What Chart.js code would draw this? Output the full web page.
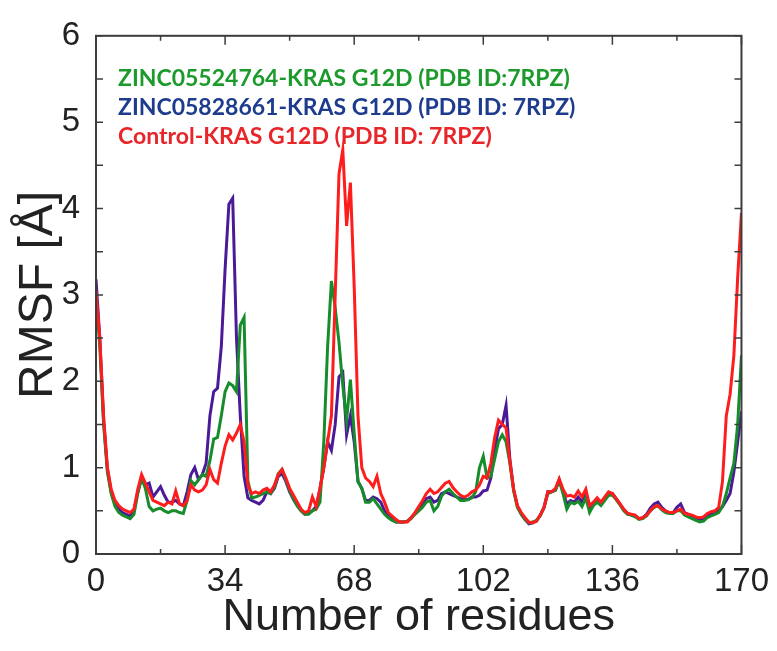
<!DOCTYPE html>
<html>
<head>
<meta charset="utf-8">
<script src="https://cdn.jsdelivr.net/npm/chart.js@4.4.1/dist/chart.umd.min.js"></script>
<style>
  html, body { margin: 0; padding: 0; background: #fff; }
  #wrap { width: 777px; height: 651px; }
</style>
</head>
<body>
<div id="wrap"><canvas id="grafica" width="777" height="651"></canvas></div>
<script>
// residuos 0..170
const residuos = Array.from({ length: 171 }, (_, i) => i);

const nombres = [
    'ZINC05524764-KRAS G12D (PDB ID:7RPZ)',
    'ZINC05828661-KRAS G12D (PDB ID: 7RPZ)',
    'Control-KRAS G12D (PDB ID: 7RPZ)'
];
const coloresLinea = ['#178c2a', '#4b1a98', '#ff1c1c'];
const coloresTexto = ['#1c9a2c', '#1d3c8e', '#e8262a'];

const xTicks = [0, 34, 68, 102, 136, 170];
const xMenores = [17, 51, 85, 119, 153];
const yTicks = [0, 1, 2, 3, 4, 5, 6];
const yMenores = [0.5, 1.5, 2.5, 3.5, 4.5, 5.5];

// RMSF (Å) por residuo
const rmsfVerde = [
    3.0, 2.4, 1.5, 0.95, 0.7, 0.55, 0.48, 0.45, 0.43, 0.41,
    0.46, 0.7, 0.88, 0.76, 0.55, 0.5, 0.52, 0.53, 0.5, 0.48,
    0.5, 0.5, 0.48, 0.47, 0.62, 0.85, 0.8, 0.86, 0.92, 0.9,
    1.08, 1.33, 1.35, 1.6, 1.88, 1.98, 1.95, 1.88, 2.65, 2.74,
    0.85, 0.65, 0.66, 0.68, 0.7, 0.72, 0.7, 0.78, 0.93, 0.98,
    0.86, 0.74, 0.64, 0.56, 0.5, 0.46, 0.46, 0.5, 0.52, 0.6,
    1.3, 2.4, 3.16, 2.85, 2.45, 1.95, 1.55, 2.02, 1.4, 0.84,
    0.76, 0.6, 0.6, 0.64, 0.58, 0.52, 0.46, 0.42, 0.39, 0.37,
    0.37, 0.37, 0.38, 0.41, 0.46, 0.5, 0.54, 0.6, 0.62, 0.5,
    0.55, 0.67, 0.72, 0.75, 0.7, 0.66, 0.62, 0.62, 0.63, 0.65,
    0.72, 1.0, 1.13, 0.88, 0.9, 1.1, 1.3, 1.38, 1.3, 1.05,
    0.73, 0.54, 0.46, 0.4, 0.36, 0.37, 0.39, 0.44, 0.54, 0.7,
    0.72, 0.74, 0.85, 0.7, 0.52, 0.6, 0.58, 0.61, 0.55, 0.65,
    0.48, 0.56, 0.6, 0.56, 0.62, 0.68, 0.68, 0.63, 0.57, 0.5,
    0.46, 0.45, 0.43, 0.4, 0.41, 0.44, 0.5, 0.54, 0.56, 0.51,
    0.48, 0.47, 0.47, 0.5, 0.5, 0.45, 0.43, 0.41, 0.39, 0.37,
    0.38, 0.42, 0.44, 0.46, 0.48, 0.55, 0.7, 0.88, 1.05, 1.5,
    2.3
];

const rmsfMorado = [
    3.18, 2.5, 1.55, 0.98, 0.72, 0.58, 0.52, 0.48, 0.46, 0.44,
    0.5, 0.72, 0.88, 0.8, 0.82, 0.66, 0.72, 0.78, 0.68, 0.6,
    0.6, 0.62, 0.58, 0.56, 0.72, 0.92, 1.0, 0.86, 0.92, 1.05,
    1.6, 1.88, 1.92, 2.4, 3.3, 4.05, 4.12, 2.5, 1.6, 0.9,
    0.65, 0.62, 0.6, 0.58, 0.62, 0.72, 0.7, 0.76, 0.9, 0.93,
    0.84, 0.72, 0.63, 0.56, 0.5, 0.46, 0.48, 0.5, 0.55, 0.76,
    1.0, 1.3, 1.2, 1.5, 2.05, 2.1, 1.38, 1.6, 1.3, 0.84,
    0.76, 0.62, 0.62, 0.66, 0.64, 0.6, 0.5, 0.44, 0.4, 0.37,
    0.37, 0.37, 0.38, 0.42, 0.47, 0.52, 0.58, 0.64, 0.66, 0.6,
    0.62, 0.7, 0.72, 0.7, 0.68, 0.66, 0.64, 0.64, 0.63, 0.66,
    0.66, 0.68, 0.73, 0.74, 0.88, 1.2, 1.45, 1.5, 1.72, 1.1,
    0.74, 0.55, 0.46, 0.4, 0.35, 0.36, 0.38, 0.45, 0.54, 0.72,
    0.72, 0.74, 0.86, 0.72, 0.58, 0.62, 0.6, 0.66, 0.6, 0.72,
    0.52, 0.58, 0.62, 0.58, 0.64, 0.7, 0.7, 0.64, 0.58, 0.51,
    0.47, 0.45, 0.44, 0.41, 0.42, 0.46, 0.53, 0.58, 0.6, 0.54,
    0.5, 0.48, 0.48, 0.54, 0.58, 0.48, 0.46, 0.44, 0.42, 0.4,
    0.41, 0.44, 0.46, 0.47, 0.5, 0.55, 0.62, 0.7, 0.95, 1.3,
    1.65
];

const rmsfRojo = [
    3.05, 2.5, 1.6, 1.0, 0.75, 0.62, 0.56, 0.52, 0.5, 0.48,
    0.52, 0.75, 0.92, 0.82, 0.72, 0.62, 0.6, 0.58, 0.56, 0.6,
    0.58, 0.73, 0.58, 0.56, 0.62, 0.8, 0.74, 0.72, 0.74, 0.8,
    0.98, 0.86, 0.82, 1.05, 1.25, 1.38, 1.32, 1.4, 1.5, 1.3,
    0.8, 0.7, 0.72, 0.7, 0.74, 0.76, 0.72, 0.8, 0.92, 0.98,
    0.88, 0.76, 0.68, 0.6, 0.52, 0.48, 0.5, 0.66, 0.55, 0.76,
    1.0, 1.3, 1.6, 3.0, 4.4, 4.68, 3.8, 4.3, 3.1, 1.6,
    1.0, 0.88, 0.84, 0.78, 0.9, 0.7, 0.6, 0.48, 0.44, 0.4,
    0.37, 0.37, 0.37, 0.42, 0.48, 0.55, 0.62, 0.7, 0.75, 0.7,
    0.72, 0.77, 0.82, 0.84, 0.77, 0.72, 0.68, 0.66, 0.68, 0.72,
    0.74, 0.8, 0.9, 0.88, 1.05, 1.35, 1.55, 1.5, 1.46, 1.07,
    0.75, 0.56, 0.48, 0.42, 0.37, 0.36, 0.38, 0.45, 0.54, 0.72,
    0.72, 0.76, 0.87, 0.75, 0.67, 0.68, 0.66, 0.73, 0.66, 0.75,
    0.56, 0.6, 0.65, 0.6, 0.66, 0.72, 0.7, 0.64, 0.58, 0.52,
    0.47, 0.46, 0.45, 0.41, 0.42, 0.45, 0.5, 0.55, 0.56, 0.52,
    0.5, 0.48, 0.48, 0.5, 0.52, 0.47, 0.46, 0.45, 0.43, 0.42,
    0.43, 0.47, 0.49, 0.5, 0.54, 0.84, 1.6, 1.85, 2.3, 3.2,
    3.95
];

const series = [rmsfVerde, rmsfMorado, rmsfRojo];
const orden = [1, 2, 0]; // rojo encima

const datos = {
    datasets: series.map((s, i) => ({
        label: nombres[i],
        data: residuos.map((r, j) => ({ x: r, y: s[j] })),
        borderColor: coloresLinea[i],
        borderWidth: 3,
        pointRadius: 0,
        fill: false,
        tension: 0,
        order: orden[i]
    }))
};

// marco, marcas hacia dentro y leyenda de texto
const marco = {
    id: 'marco',
    afterDatasetsDraw(chart) {
        const { ctx, chartArea: a, scales: { x, y } } = chart;
        ctx.save();
        ctx.strokeStyle = '#3c3c3c';
        ctx.lineWidth = 1.5;
        ctx.beginPath();
        const marcasX = xTicks.map(v => [v, 9]).concat(xMenores.map(v => [v, 5]));
        for (const [v, len] of marcasX) {
            const px = x.getPixelForValue(v);
            ctx.moveTo(px, a.bottom); ctx.lineTo(px, a.bottom - len);
            ctx.moveTo(px, a.top); ctx.lineTo(px, a.top + len);
        }
        for (const v of yTicks.concat(yMenores)) {
            const py = y.getPixelForValue(v);
            ctx.moveTo(a.left, py); ctx.lineTo(a.left + 7, py);
            ctx.moveTo(a.right, py); ctx.lineTo(a.right - 7, py);
        }
        ctx.stroke();
        ctx.lineWidth = 2;
        ctx.strokeRect(a.left, a.top, a.right - a.left, a.bottom - a.top);

        ctx.font = 'bold 23px Lato';
        ctx.textBaseline = 'middle';
        ctx.textAlign = 'left';
        nombres.forEach((n, i) => {
            ctx.fillStyle = coloresTexto[i];
            ctx.fillText(n, a.left + 22, a.top + 43 + i * 29);
        });
        ctx.restore();
    }
};

new Chart(document.getElementById('grafica'), {
    type: 'line',
    data: datos,
    options: {
        responsive: false,
        animation: false,
        layout: { padding: { left: 0, top: 28, right: 30, bottom: 0 } },
        plugins: { legend: { display: false }, tooltip: { enabled: false } },
        scales: {
            x: {
                type: 'linear',
                min: 0,
                max: 170,
                afterFit: s => { s.height = 97; },
                afterBuildTicks: s => { s.ticks = xTicks.map(v => ({ value: v })); },
                grid: { display: false, drawTicks: false },
                border: { display: false },
                ticks: {
                    color: '#222',
                    padding: 8,
                    maxRotation: 0,
                    font: { family: 'Liberation Sans', size: 33 }
                },
                title: {
                    display: true,
                    text: 'Number of residues',
                    color: '#222',
                    padding: { top: 0, bottom: 6 },
                    font: { family: 'Liberation Sans', size: 45 }
                }
            },
            y: {
                min: 0,
                max: 6,
                afterFit: s => { s.width = 96; },
                afterBuildTicks: s => { s.ticks = yTicks.map(v => ({ value: v })); },
                grid: { display: false, drawTicks: false },
                border: { display: false },
                ticks: {
                    color: '#222',
                    padding: 16,
                    font: { family: 'Liberation Sans', size: 33 }
                },
                title: {
                    display: true,
                    text: 'RMSF [Å]',
                    color: '#222',
                    padding: { top: 10, bottom: 0 },
                    font: { family: 'Liberation Sans', size: 48 }
                }
            }
        }
    },
    plugins: [marco]
});
</script>
</body>
</html>
